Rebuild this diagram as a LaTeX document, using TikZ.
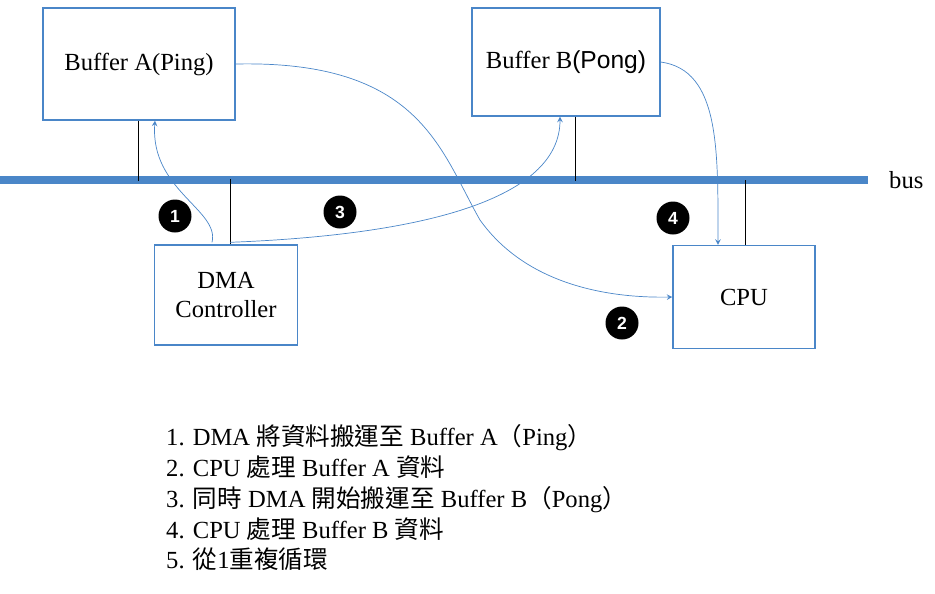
\documentclass[tikz,border=0pt]{standalone}
\usepackage{fontspec}
\setmainfont{Liberation Serif}
\newfontfamily\cjk{Noto Sans CJK TC}
\newfontfamily\sansf{Liberation Sans}
\usetikzlibrary{positioning, calc}
\definecolor{busblue}{RGB}{74,134,200}
\tikzset{
  unit/.style={draw=busblue, thick, fill=white, font=\fontsize{14}{16}\selectfont, align=center},
  num/.style={circle, fill=black, text=white, inner sep=0pt, minimum size=0.66cm, font=\sansf\bfseries},
  flow/.style={busblue, thin, ->, >=stealth},
  stub/.style={black, thin}
}
\begin{document}
\begin{tikzpicture}[x=0.02cm, y=-0.02cm]
    \useasboundingbox (0,0) rectangle (935,593);
    % Units
    \node[unit, minimum width=3.84cm, minimum height=2.24cm] (bufa) at (139,64) {Buffer A(Ping)};
    \node[unit, minimum width=3.76cm, minimum height=2.16cm] (bufb) at (566,62) {Buffer B{\sansf(Pong)}};
    \node[unit, minimum width=2.86cm, minimum height=2cm] (dma) at (226,295) {DMA\\Controller};
    \node[unit, minimum width=2.84cm, minimum height=2.06cm] (cpu) at (744,297) {CPU};
    % Bus
    \coordinate (busw) at (0,180);
    \coordinate (buse) at (868,180);
    \draw[busblue, line width=5pt] (busw) -- (buse);
    \node[right=0.3cm of buse, font=\fontsize{14}{16}\selectfont] (buslbl) {bus};
    % Stubs to the bus
    \draw[stub] (bufa.south) ++(-1,0) -- +(0,60);
    \draw[stub] (bufb.south) ++(9,0) -- +(0,64);
    \draw[stub] (dma.north) ++(4,0) -- +(0,-65);
    \draw[stub] (cpu.north) ++(1,0) -- +(0,-65);
    % Data flow
    \draw[flow] (dma.north) ++(-14,-2) .. controls (220,210) and (150,190) .. ($(bufa.south)+(16,0)$);
    \draw[flow] (dma.north) ++(4,-2) .. controls (420,235) and (560,200) .. ($(bufb.south)+(-6,0)$);
    \draw[flow] (bufa.east) .. controls (420,60) and (440,150) .. (480,220) .. controls (530,290) and (620,298) .. (cpu.west);
    \draw[flow] (bufb.east) .. controls (720,70) and (718,150) .. ($(cpu.north)+(-26,0)$);
    % Step markers
    \node[num] (n1) at (175,216) {1};
    \node[num] (n2) at (622,323) {2};
    \node[num] (n3) at (340,212) {3};
    \node[num] (n4) at (673,218) {4};
    % Legend
    \node[anchor=north west, align=left, font=\fontsize{14}{17.6}\selectfont] (legend) at (160,418) {%
      1. DMA {\cjk 將資料搬運至} Buffer A{\cjk （}Ping{\cjk ）}\\
      2. CPU {\cjk 處理} Buffer A {\cjk 資料}\\
      3. {\cjk 同時} DMA {\cjk 開始搬運至} Buffer B{\cjk （}Pong{\cjk ）}\\
      4. CPU {\cjk 處理} Buffer B {\cjk 資料}\\
      5. {\cjk 從}1{\cjk 重複循環}};
\end{tikzpicture}
\end{document}
